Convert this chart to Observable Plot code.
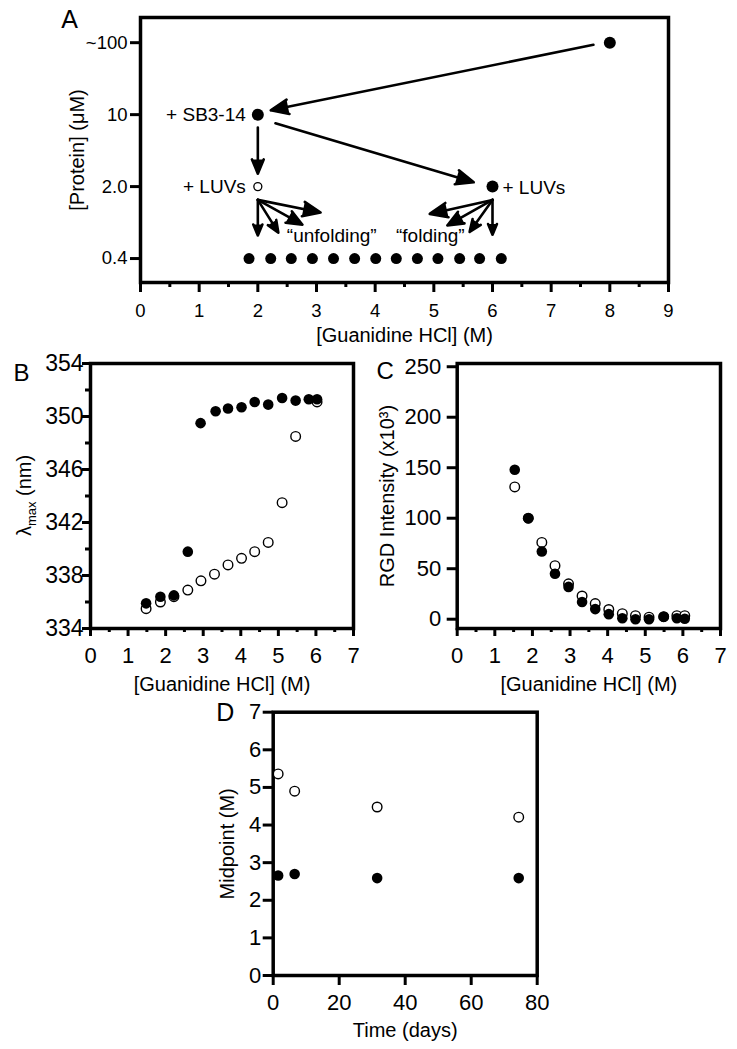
<!DOCTYPE html>
<html>
<head>
<meta charset="utf-8">
<script src="https://cdn.jsdelivr.net/npm/d3@7"></script>
<script src="https://cdn.jsdelivr.net/npm/@observablehq/plot@0.6"></script>
<style>
  html, body { margin: 0; padding: 0; background: #fff; }
  #root { position: relative; width: 737px; height: 1049px; background: #fff; overflow: hidden; }
  .panel { position: absolute; }
  svg { overflow: visible; }
</style>
</head>
<body>
<div id="root"></div>
<script>
// ---------------- DATA ----------------
// Panel A: schematic of the experiment
const aLevelLabels = ["0.4", "2.0", "10", "~100"];
const aLevelTicks = [0, 1, 2, 3];
const aXTicks = [0, 1, 2, 3, 4, 5, 6, 7, 8, 9];
const aXMinor = [0.5, 1.5, 2.5, 3.5, 4.5, 5.5, 6.5, 7.5, 8.5];
const aFilledX = [8, 2, 6];
const aFilledLevel = [3, 2, 1];
const aOpenX = [2];
const aOpenLevel = [1];
const aRowX = [1.85, 2.22, 2.57, 2.93, 3.29, 3.65, 4.01, 4.36, 4.72, 5.07, 5.44, 5.78, 6.15];
const aArrowX1 = [7.72, 2.30, 2.0, 2.0, 2.0, 2.0, 2.0, 6.0, 6.0, 6.0, 6.0];
const aArrowY1 = [2.97, 1.88, 1.82, 0.815, 0.815, 0.815, 0.815, 0.815, 0.815, 0.815, 0.815];
const aArrowX2 = [2.22, 5.68, 2.0, 2.0, 2.35, 2.76, 3.07, 6.0, 5.61, 5.23, 4.93];
const aArrowY2 = [2.06, 1.06, 1.18, 0.32, 0.36, 0.47, 0.64, 0.33, 0.37, 0.46, 0.62];
// annotations: left-anchored notes, right-anchored notes, centred notes
const aLeftNoteText = ["+ SB3-14", "+ LUVs"];
const aLeftNoteX = [2, 2];
const aLeftNoteLevel = [2, 1];
const aRightNoteText = ["+ LUVs"];
const aRightNoteX = [6];
const aRightNoteLevel = [1];
const aMidNoteText = ["\u201Cunfolding\u201D", "\u201Cfolding\u201D"];
const aMidNoteX = [3.26, 4.94];
const aMidNoteLevel = [0.31, 0.31];

// Panel B: lambda max vs [GdnHCl]
const bXTicks = [0, 1, 2, 3, 4, 5, 6, 7];
const bXMinor = [0.5, 1.5, 2.5, 3.5, 4.5, 5.5, 6.5];
const bYTicks = [334, 338, 342, 346, 350, 354];
const bYMinor = [336, 340, 344, 348, 352];
const bFilledX = [1.48, 1.86, 2.22, 2.59, 2.93, 3.33, 3.66, 4.02, 4.37, 4.73, 5.10, 5.46, 5.81, 6.03];
const bFilledY = [335.9, 336.4, 336.5, 339.8, 349.5, 350.4, 350.6, 350.7, 351.1, 350.9, 351.4, 351.2, 351.3, 351.3];
const bOpenX = [1.48, 1.86, 2.22, 2.59, 2.94, 3.30, 3.66, 4.02, 4.37, 4.73, 5.10, 5.46, 6.03];
const bOpenY = [335.5, 336.0, 336.4, 336.9, 337.6, 338.1, 338.8, 339.3, 339.8, 340.5, 343.5, 348.5, 351.1];

// Panel C: RGD intensity vs [GdnHCl]
const cXTicks = [0, 1, 2, 3, 4, 5, 6, 7];
const cXMinor = [0.5, 1.5, 2.5, 3.5, 4.5, 5.5, 6.5];
const cYTicks = [0, 50, 100, 150, 200, 250];
const cFilledX = [1.53, 1.89, 2.25, 2.60, 2.96, 3.32, 3.67, 4.03, 4.39, 4.74, 5.10, 5.49, 5.84, 6.05];
const cFilledY = [148, 100, 67, 45, 32, 17, 10, 5, 1, 0, 0, 2.5, 1, 0.5];
const cOpenX = [1.53, 1.89, 2.25, 2.60, 2.96, 3.32, 3.67, 4.03, 4.39, 4.74, 5.10, 5.49, 5.84, 6.05];
const cOpenY = [131, 100, 76, 53, 35, 23, 15.5, 9.6, 5.5, 3.5, 2, 2.5, 3.5, 3.5];

// Panel D: midpoint vs time
const dXTicks = [0, 20, 40, 60, 80];
const dYTicks = [0, 1, 2, 3, 4, 5, 6, 7];
const dOpenX = [1.5, 6.5, 31.5, 74.4];
const dOpenY = [5.36, 4.9, 4.48, 4.21];
const dFilledX = [1.5, 6.5, 31.5, 74.4];
const dFilledY = [2.66, 2.7, 2.59, 2.59];

// ---------------- HELPERS ----------------
const FONT = "'Liberation Sans', Arial, Helvetica, sans-serif";
const FRAME_W = 3.5;
const TICK_W = 3;
const zip = (xs, ys) => xs.map((x, i) => ({x, y: ys[i]}));
const root = document.getElementById("root");

function place(svg, left, top) {
  const div = document.createElement("div");
  div.className = "panel";
  div.style.left = left + "px";
  div.style.top = top + "px";
  div.appendChild(svg);
  root.appendChild(div);
}

function fillArrowHeads(svg) {
  d3.select(svg).selectAll("g[aria-label='arrow'] path").attr("fill", "black").attr("stroke-linejoin", "miter");
}

function label(text, opts) {
  return Plot.text([text], {textAnchor: "middle", lineAnchor: "middle", fill: "black", fontSize: 20, ...opts});
}
// tick marks only (no labels) — labels drawn separately through the same scales
function ticksX(ticks, size) {
  return Plot.axisX({ticks, tickSize: size, tickFormat: () => "", strokeWidth: TICK_W, label: null});
}
function ticksY(ticks, size) {
  return Plot.axisY({ticks, tickSize: size, tickFormat: () => "", strokeWidth: TICK_W, label: null});
}
function tickLabelsX(ticks, dy, fontSize, fmt = String) {
  return Plot.text(ticks, {x: d => d, text: fmt, frameAnchor: "bottom", textAnchor: "middle", lineAnchor: "middle", dy, fontSize, fill: "black"});
}
function tickLabelsY(ticks, dx, fontSize, fmt = String) {
  return Plot.text(ticks, {y: d => d, text: fmt, frameAnchor: "left", textAnchor: "end", lineAnchor: "middle", dx, fontSize, fill: "black"});
}

// ---------------- PANEL A ----------------
{
  const rows = aRowX.map(x => ({x, y: 0}));
  const arrows = aArrowX1.map((x1, i) => ({x1, y1: aArrowY1[i], x2: aArrowX2[i], y2: aArrowY2[i]}));
  const svg = Plot.plot({
    width: 737, height: 350,
    marginLeft: 140, marginRight: 69, marginTop: 17, marginBottom: 68,
    style: {fontFamily: FONT, fontSize: "18px", color: "black", background: "transparent"},
    x: {domain: [0, 9], label: null},
    y: {domain: [-0.333, 3.35], label: null},
    marks: [
      Plot.frame({strokeWidth: FRAME_W}),
      ticksX(aXTicks, 10),
      ticksX(aXMinor, 5),
      ticksY(aLevelTicks, 10),
      tickLabelsX(aXTicks, 29, 18.5),
      tickLabelsY(aLevelTicks, -13, 18.5, d => aLevelLabels[d]),
      Plot.arrow(arrows, {x1: "x1", y1: "y1", x2: "x2", y2: "y2", stroke: "black", strokeWidth: 2.6, headLength: 11, headAngle: 45}),
      Plot.dot(rows, {x: "x", y: "y", r: 5.5, fill: "black"}),
      Plot.dot(zip(aOpenX, aOpenLevel), {x: "x", y: "y", r: 4, fill: "white", stroke: "black", strokeWidth: 1.3}),
      Plot.dot(zip(aFilledX, aFilledLevel), {x: "x", y: "y", r: 6, fill: "black"}),
      Plot.text(zip(aLeftNoteX, aLeftNoteLevel).map((d, i) => ({...d, t: aLeftNoteText[i]})),
        {x: "x", y: "y", text: "t", textAnchor: "end", lineAnchor: "middle", dx: -12, fontSize: 19, fill: "black"}),
      Plot.text(zip(aRightNoteX, aRightNoteLevel).map((d, i) => ({...d, t: aRightNoteText[i]})),
        {x: "x", y: "y", text: "t", textAnchor: "start", lineAnchor: "middle", dx: 10, dy: 1, fontSize: 19, fill: "black"}),
      Plot.text(zip(aMidNoteX, aMidNoteLevel).map((d, i) => ({...d, t: aMidNoteText[i]})),
        {x: "x", y: "y", text: "t", textAnchor: "middle", lineAnchor: "middle", fontSize: 19, fill: "black"}),
      label("[Guanidine HCl] (M)", {frameAnchor: "bottom", dy: 53}),
      label("[Protein] (\u03BCM)", {frameAnchor: "left", dx: -63, rotate: -90}),
      label("A", {frameAnchor: "top-left", dx: -71, dy: 2, fontSize: 25})
    ]
  });
  fillArrowHeads(svg);
  place(svg, 0, 0);
}

// ---------------- PANEL B ----------------
{
  const mL = 90, mT = 33, H = 370, mB = 72;
  const svg = Plot.plot({
    width: 370, height: H,
    marginLeft: mL, marginRight: 17, marginTop: mT, marginBottom: mB,
    style: {fontFamily: FONT, fontSize: "20px", color: "black", background: "transparent"},
    x: {domain: [0, 7], label: null},
    y: {domain: [334, 354], label: null},
    marks: [
      Plot.frame({strokeWidth: FRAME_W}),
      ticksX(bXTicks, 8),
      ticksX(bXMinor, 4),
      ticksY(bYTicks, 8),
      ticksY(bYMinor, 5),
      tickLabelsX(bXTicks, 27, 22),
      tickLabelsY(bYTicks, -7, 23),
      Plot.dot(zip(bOpenX, bOpenY), {x: "x", y: "y", r: 4.8, fill: "white", stroke: "black", strokeWidth: 1.4}),
      Plot.dot(zip(bFilledX, bFilledY), {x: "x", y: "y", r: 5.3, fill: "black"}),
      label("[Guanidine HCl] (M)", {frameAnchor: "bottom", dy: 56}),
      label("B", {frameAnchor: "top-left", dx: -69, dy: 10, fontSize: 24})
    ]
  });
  // y label with subscript
  const cy = (mT + H - mB) / 2;
  const t = d3.select(svg).append("text")
    .attr("transform", `translate(${mL - 66},${cy}) rotate(-90)`)
    .attr("text-anchor", "middle").attr("dy", "0.35em")
    .attr("font-size", 20).attr("font-family", FONT).attr("fill", "black");
  t.append("tspan").text("\u03BB");
  t.append("tspan").attr("font-size", 13).attr("dy", "0.35em").text("max");
  t.append("tspan").attr("dy", "-0.25em").text(" (nm)");
  place(svg, 0, 330);
}

// ---------------- PANEL C ----------------
{
  const svg = Plot.plot({
    width: 367, height: 370,
    marginLeft: 86.7, marginRight: 17, marginTop: 33, marginBottom: 72,
    style: {fontFamily: FONT, fontSize: "20px", color: "black", background: "transparent"},
    x: {domain: [0, 7], label: null},
    y: {domain: [-9.2, 253.2], label: null},
    marks: [
      Plot.frame({strokeWidth: FRAME_W}),
      ticksX(cXTicks, 8),
      ticksX(cXMinor, 4),
      ticksY(cYTicks, 10),
      tickLabelsX(cXTicks, 27, 22),
      tickLabelsY(cYTicks, -16, 22),
      Plot.dot(zip(cOpenX, cOpenY), {x: "x", y: "y", r: 4.8, fill: "white", stroke: "black", strokeWidth: 1.4}),
      Plot.dot(zip(cFilledX, cFilledY), {x: "x", y: "y", r: 5.3, fill: "black"}),
      label("[Guanidine HCl] (M)", {frameAnchor: "bottom", dy: 56}),
      label("RGD Intensity (x10\u00B3)", {frameAnchor: "left", dx: -70, rotate: -90}),
      label("C", {frameAnchor: "top-left", dx: -72, dy: 8, fontSize: 24})
    ]
  });
  place(svg, 370, 330);
}

// ---------------- PANEL D ----------------
{
  const svg = Plot.plot({
    width: 380, height: 359,
    marginLeft: 92.7, marginRight: 23.3, marginTop: 21.7, marginBottom: 74,
    style: {fontFamily: FONT, fontSize: "20px", color: "black", background: "transparent"},
    x: {domain: [0, 80], label: null},
    y: {domain: [0, 7], label: null},
    marks: [
      Plot.frame({strokeWidth: FRAME_W}),
      ticksX(dXTicks, 10),
      ticksY(dYTicks, 10),
      tickLabelsX(dXTicks, 27, 22),
      tickLabelsY(dYTicks, -12, 22),
      Plot.dot(zip(dOpenX, dOpenY), {x: "x", y: "y", r: 4.8, fill: "white", stroke: "black", strokeWidth: 1.4}),
      Plot.dot(zip(dFilledX, dFilledY), {x: "x", y: "y", r: 5.3, fill: "black"}),
      label("Time (days)", {frameAnchor: "bottom", dy: 55}),
      label("Midpoint (M)", {frameAnchor: "left", dx: -46, rotate: -90}),
      label("D", {frameAnchor: "top-left", dx: -48, dy: 1, fontSize: 25})
    ]
  });
  place(svg, 180, 690);
}
</script>
</body>
</html>
